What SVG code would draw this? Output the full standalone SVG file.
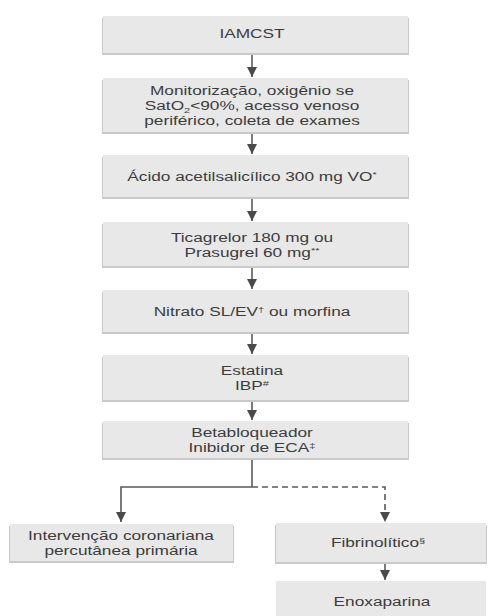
<svg xmlns="http://www.w3.org/2000/svg" width="488" height="616" viewBox="0 0 488 616">
<style>
.box{fill:#e8e8e8;}
.sh{fill:#c9c9c9;}
.t{font-family:"Liberation Sans",Arial,sans-serif;font-size:12.5px;fill:#3c3c3c;text-anchor:middle;}
.sup{font-size:8px;}
.ln{stroke:#5a5a5a;stroke-width:1.6;fill:none;}
.dash{stroke-dasharray:6 4;}
</style>
<defs>
<marker id="ah" markerUnits="userSpaceOnUse" markerWidth="10" markerHeight="10" refX="10" refY="5" orient="auto">
<path d="M0,0 L10,5 L0,10 z" fill="#4a4a4a"/>
</marker>
</defs>
<rect width="488" height="616" fill="#ffffff"/>

<g id="connectors">
<line class="ln" x1="252" y1="53" x2="252" y2="77" marker-end="url(#ah)"/>
<line class="ln" x1="252" y1="132" x2="252" y2="154" marker-end="url(#ah)"/>
<line class="ln" x1="252" y1="197" x2="252" y2="221" marker-end="url(#ah)"/>
<line class="ln" x1="252" y1="266" x2="252" y2="289" marker-end="url(#ah)"/>
<line class="ln" x1="252" y1="332" x2="252" y2="354" marker-end="url(#ah)"/>
<line class="ln" x1="252" y1="400" x2="252" y2="420" marker-end="url(#ah)"/>
<line class="ln" x1="252" y1="458" x2="252" y2="487"/>
<polyline class="ln" points="252,487 121,487 121,522" marker-end="url(#ah)"/>
<polyline class="ln dash" points="252,487 385,487 385,522" marker-end="url(#ah)"/>
<line class="ln" x1="385" y1="563" x2="385" y2="580" marker-end="url(#ah)"/>
</g>

<g id="n1">
<rect class="sh" x="102" y="18" width="307" height="37"/>
<rect class="box" x="103" y="16" width="305" height="37"/>
<text class="t" transform="translate(252 37.5) scale(1.38 1)">IAMCST</text>
</g>

<g id="n2">
<rect class="sh" x="102" y="80" width="307" height="54"/>
<rect class="box" x="103" y="78" width="305" height="54"/>
<text class="t" transform="translate(252 94.5) scale(1.38 1)">Monitorização, oxigênio se</text>
<text class="t" transform="translate(252 109.5) scale(1.38 1)">SatO<tspan class="sup" dy="3">2</tspan><tspan dy="-3">&lt;90%, acesso venoso</tspan></text>
<text class="t" transform="translate(252 124.5) scale(1.38 1)">periférico, coleta de exames</text>
</g>

<g id="n3">
<rect class="sh" x="102" y="157" width="307" height="42"/>
<rect class="box" x="103" y="155" width="305" height="42"/>
<text class="t" transform="translate(252 181) scale(1.38 1)">Ácido acetilsalicílico 300 mg VO<tspan class="sup" dy="-4">*</tspan></text>
</g>

<g id="n4">
<rect class="sh" x="102" y="224" width="307" height="44"/>
<rect class="box" x="103" y="222" width="305" height="44"/>
<text class="t" transform="translate(252 241.5) scale(1.38 1)">Ticagrelor 180 mg ou</text>
<text class="t" transform="translate(252 256.5) scale(1.38 1)">Prasugrel 60 mg<tspan class="sup" dy="-4">**</tspan></text>
</g>

<g id="n5">
<rect class="sh" x="102" y="292" width="307" height="42"/>
<rect class="box" x="103" y="290" width="305" height="42"/>
<text class="t" transform="translate(252 315.5) scale(1.38 1)">Nitrato SL/EV<tspan class="sup" dy="-4">†</tspan><tspan dy="4"> ou morfina</tspan></text>
</g>

<g id="n6">
<rect class="sh" x="102" y="357" width="307" height="45"/>
<rect class="box" x="103" y="355" width="305" height="45"/>
<text class="t" transform="translate(252 374.5) scale(1.38 1)">Estatina</text>
<text class="t" transform="translate(252 389.5) scale(1.38 1)">IBP<tspan class="sup" dy="-4">#</tspan></text>
</g>

<g id="n7">
<rect class="sh" x="102" y="423" width="307" height="37"/>
<rect class="box" x="103" y="421" width="305" height="37"/>
<text class="t" transform="translate(252 436.5) scale(1.38 1)">Betabloqueador</text>
<text class="t" transform="translate(252 451.5) scale(1.38 1)">Inibidor de ECA<tspan class="sup" dy="-4">‡</tspan></text>
</g>

<g id="n8">
<rect class="sh" x="9" y="526" width="225" height="37"/>
<rect class="box" x="10" y="524" width="223" height="37"/>
<text class="t" transform="translate(121 539.5) scale(1.38 1)">Intervenção coronariana</text>
<text class="t" transform="translate(121 554.5) scale(1.38 1)">percutânea primária</text>
</g>

<g id="n9">
<rect class="sh" x="275" y="525" width="212" height="39"/>
<rect class="box" x="276" y="523" width="210" height="39"/>
<text class="t" transform="translate(378 547) scale(1.38 1)">Fibrinolítico<tspan class="sup" dy="-4">§</tspan></text>
</g>

<g id="n10">
<rect class="box" x="276" y="581" width="210" height="40"/>
<text class="t" transform="translate(382 605.5) scale(1.38 1)">Enoxaparina</text>
</g>
</svg>
